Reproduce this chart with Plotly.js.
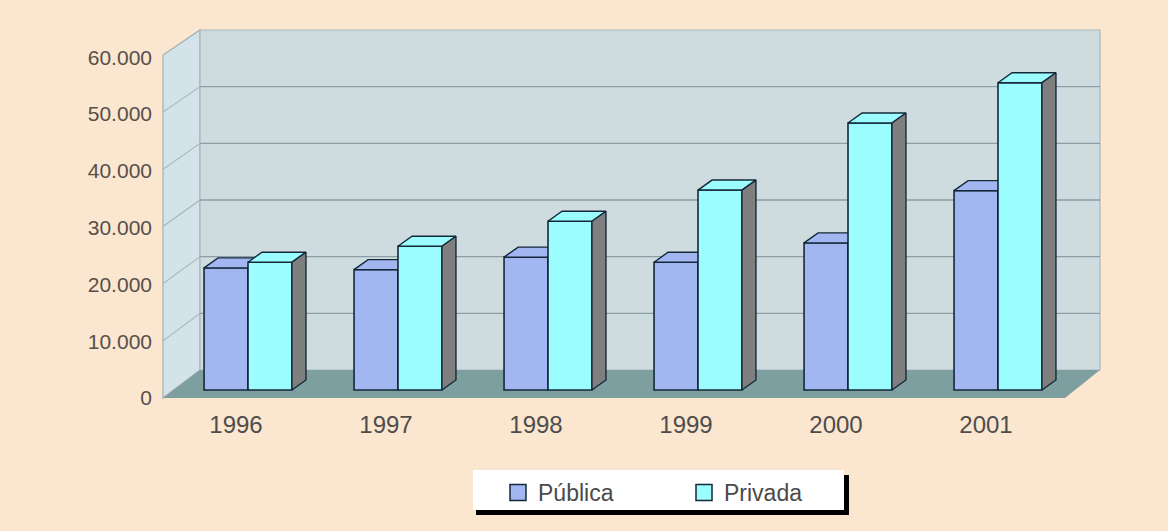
<!DOCTYPE html>
<html>
<head>
<meta charset="utf-8">
<script src="https://cdn.plot.ly/plotly-3.0.1.min.js"></script>
<style>
  html, body { margin: 0; padding: 0; background: #fbe6cf; }
  #chart { width: 1168px; height: 531px; }
</style>
</head>
<body>
<div id="chart"></div>
<script>
// Years on the horizontal axis and the two series (number of units per year)
const years = ['1996', '1997', '1998', '1999', '2000', '2001'];
const publica = [21500, 21200, 23400, 22500, 25900, 35100];
const privada = [22500, 25300, 29700, 35200, 47000, 54100];
const seriesNames = ['Pública', 'Privada'];
const yTicks = [0, 10000, 20000, 30000, 40000, 50000, 60000];

// Plot box in page pixels
const W = 1168, H = 531;
const PL = 163, PT = 30, PW = 937, PH = 368;
const X_RANGE = [-0.5667, 5.68];
const Y_RANGE = [-1408, 63380];

// Column geometry (category units) and extrusion depth (pixels)
const BAR_W = 0.293;
const DEPTH_PX_X = 14, DEPTH_PX_Y = 10;
const dxData = DEPTH_PX_X * (X_RANGE[1] - X_RANGE[0]) / PW;
const dyData = DEPTH_PX_Y * (Y_RANGE[1] - Y_RANGE[0]) / PH;

const FONT = 'Liberation Sans, Arial, sans-serif';
const OUTLINE = '#14283a';
const COL_PUB = '#a2b6f1';
const COL_PRI = '#9bfdfd';
const COL_SIDE = '#7f7f7f';

const xs = years.map((_, i) => i);

// Faces of the extruded columns, built from each value
function topFaces(vals, x0off) {
  const X = [], Y = [];
  vals.forEach((v, i) => {
    const xl = i + x0off, xr = xl + BAR_W;
    X.push(xl, xl + dxData, xr + dxData, xr, xl, null);
    Y.push(v, v + dyData, v + dyData, v, v, null);
  });
  return {x: X, y: Y};
}
function sideFaces(vals, x0off) {
  const X = [], Y = [];
  vals.forEach((v, i) => {
    const xr = i + x0off + BAR_W;
    X.push(xr, xr + dxData, xr + dxData, xr, xr, null);
    Y.push(0, dyData, v + dyData, v, 0, null);
  });
  return {x: X, y: Y};
}

function columnTraces(vals, name, color, x0off, yaxis) {
  const t = topFaces(vals, x0off), s = sideFaces(vals, x0off);
  return [
    {type: 'bar', x: xs, y: vals, name: name, offset: x0off, width: BAR_W,
     yaxis: yaxis, showlegend: false, hoverinfo: 'skip',
     marker: {color: color, line: {color: OUTLINE, width: 1.6}}},
    {type: 'scatter', mode: 'lines', x: t.x, y: t.y, yaxis: yaxis, fill: 'toself',
     fillcolor: color, line: {color: OUTLINE, width: 1.4}, showlegend: false, hoverinfo: 'skip'},
    {type: 'scatter', mode: 'lines', x: s.x, y: s.y, yaxis: yaxis, fill: 'toself',
     fillcolor: COL_SIDE, line: {color: OUTLINE, width: 1.4}, showlegend: false, hoverinfo: 'skip'}
  ];
}

const traces = [].concat(
  columnTraces(publica, seriesNames[0], COL_PUB, -BAR_W, 'y'),
  columnTraces(privada, seriesNames[1], COL_PRI, 0, 'y2'),
  [
    {type: 'scatter', mode: 'markers', x: [null], y: [null], name: seriesNames[0],
     marker: {symbol: 'square', size: 16, color: COL_PUB, line: {color: OUTLINE, width: 1.5}}},
    {type: 'scatter', mode: 'markers', x: [null], y: [null], name: seriesNames[1],
     marker: {symbol: 'square', size: 16, color: COL_PRI, line: {color: OUTLINE, width: 1.5}}}
  ]
);

// Page pixels -> paper fractions of the plot box
const px = p => (p - PL) / PW;
const py = p => (PT + PH - p) / PH;

// Wall planes: front edge of the side wall and back wall
const FRONT_BASE = 398, FRONT_TOP = 55, BACK_BASE = 370, BACK_TOP = 30;
const FX = 163, BX = 200, BX_R = 1100, FX_R = 1065;
const yFront = v => FRONT_BASE - v * (FRONT_BASE - FRONT_TOP) / 60000;
const yBack = v => BACK_BASE - v * (BACK_BASE - BACK_TOP) / 60000;

function poly(pts) {
  return 'M' + pts.map(p => px(p[0]).toFixed(5) + ',' + py(p[1]).toFixed(5)).join('L') + 'Z';
}

const shapes = [
  // side wall
  {type: 'path', xref: 'paper', yref: 'paper', layer: 'below',
   path: poly([[FX, FRONT_BASE], [FX, FRONT_TOP], [BX, BACK_TOP], [BX, BACK_BASE]]),
   fillcolor: '#d4e3e9', line: {color: '#9fb1b6', width: 1.2}},
  // back wall
  {type: 'path', xref: 'paper', yref: 'paper', layer: 'below',
   path: poly([[BX, BACK_BASE], [BX, BACK_TOP], [BX_R, BACK_TOP], [BX_R, BACK_BASE]]),
   fillcolor: '#cfdcdf', line: {color: '#a9b8bb', width: 1.2}},
  // floor
  {type: 'path', xref: 'paper', yref: 'paper', layer: 'below',
   path: poly([[FX, FRONT_BASE], [BX, BACK_BASE], [BX_R, BACK_BASE], [FX_R, FRONT_BASE]]),
   fillcolor: '#7e9fa0', line: {width: 0}}
];

// Gridlines on the back wall and the side wall
yTicks.filter(v => v > 0 && v < 60000).forEach(v => {
  shapes.push({type: 'line', xref: 'paper', yref: 'paper', layer: 'below',
    x0: px(BX), x1: px(BX_R), y0: py(yBack(v)), y1: py(yBack(v)),
    line: {color: '#8a9ea3', width: 1.4}});
  shapes.push({type: 'line', xref: 'paper', yref: 'paper', layer: 'below',
    x0: px(FX), x1: px(BX), y0: py(yFront(v)), y1: py(yBack(v)),
    line: {color: '#a3b5ba', width: 1.1}});
});

// Legend box with drop shadow
shapes.push({type: 'rect', xref: 'paper', yref: 'paper', layer: 'above',
  x0: px(476), x1: px(849), y0: py(475), y1: py(515),
  fillcolor: '#000000', line: {width: 0}});
shapes.push({type: 'rect', xref: 'paper', yref: 'paper', layer: 'above',
  x0: px(473), x1: px(844), y0: py(470), y1: py(510),
  fillcolor: '#ffffff', line: {width: 0}});

const layout = {
  width: W, height: H,
  margin: {l: PL, r: W - PL - PW, t: PT, b: H - PT - PH, pad: 0},
  paper_bgcolor: '#fbe6cf',
  plot_bgcolor: 'rgba(0,0,0,0)',
  separators: ',.',
  font: {family: FONT, color: '#4d4d4d'},
  showlegend: true,
  legend: {
    orientation: 'h', x: px(498), xanchor: 'left', y: py(471), yanchor: 'top',
    bgcolor: 'rgba(0,0,0,0)', borderwidth: 0,
    font: {family: FONT, size: 23, color: '#4a4a4a'},
    entrywidth: 141, itemwidth: 30, traceorder: 'normal'
  },
  xaxis: {
    range: X_RANGE, tickmode: 'array', tickvals: xs, ticktext: years,
    showgrid: false, zeroline: false, showline: false, ticks: '',
    ticklabelshift: -12, ticklabelstandoff: 10,
    tickfont: {family: FONT, size: 24, color: '#4d4d4d'}, fixedrange: true
  },
  yaxis: {
    range: Y_RANGE, tickmode: 'array', tickvals: yTicks, tickformat: ',d',
    showgrid: false, zeroline: false, showline: false, ticks: '',
    ticklabelshift: 8, ticklabelstandoff: 10,
    tickfont: {family: FONT, size: 21, color: '#574f4a'}, fixedrange: true
  },
  yaxis2: {
    range: Y_RANGE, overlaying: 'y', visible: false, fixedrange: true
  },
  shapes: shapes
};

Plotly.newPlot('chart', traces, layout, {displayModeBar: false, staticPlot: true});
</script>
</body>
</html>
